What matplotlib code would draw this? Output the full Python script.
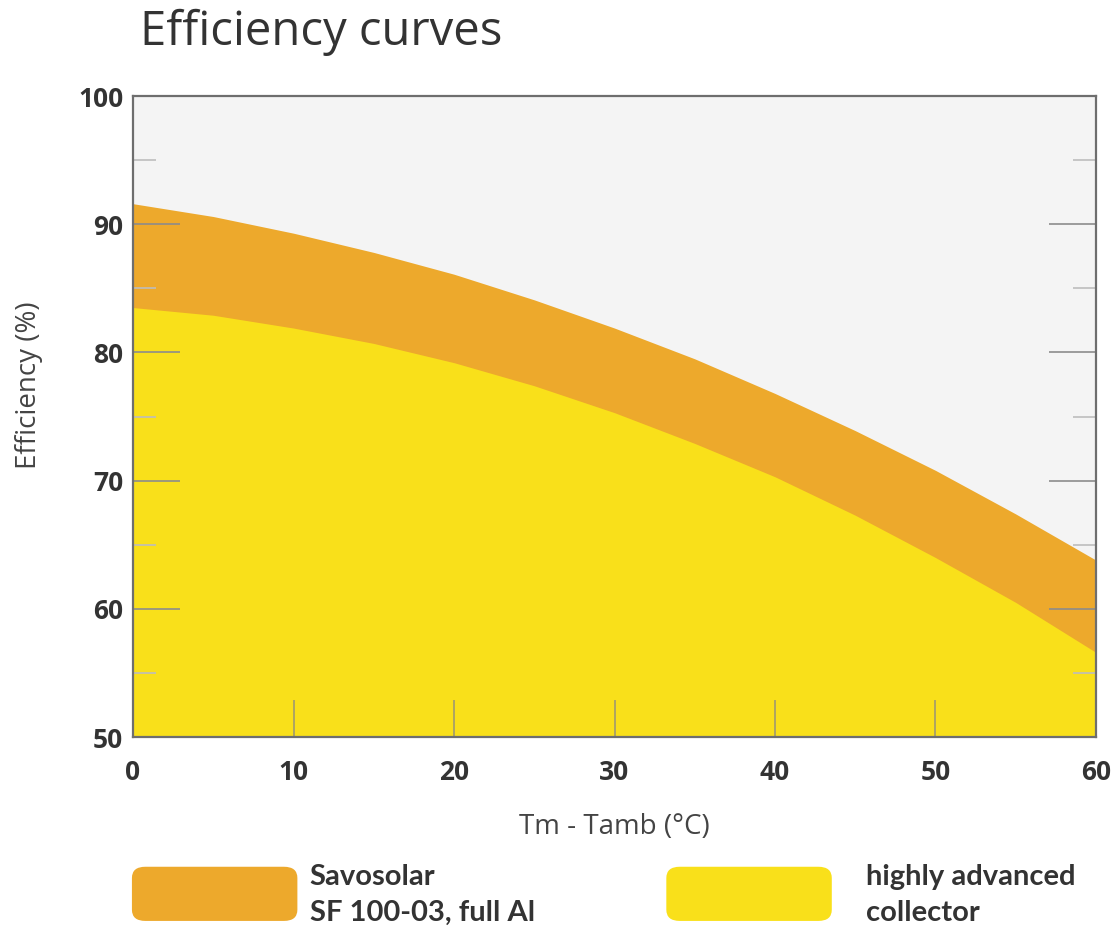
import matplotlib
matplotlib.use("Agg")
import matplotlib.pyplot as plt
from matplotlib.patches import FancyBboxPatch

# values
temp_diff = [0, 5, 10, 15, 20, 25, 30, 35, 40, 45, 50, 55, 60]
savosolar = [91.6, 90.6, 89.3, 87.8, 86.1, 84.1, 81.9, 79.5, 76.8, 73.9, 70.8, 67.4, 63.8]
advanced = [83.5, 82.9, 81.9, 80.7, 79.2, 77.4, 75.3, 72.9, 70.3, 67.3, 64.0, 60.5, 56.6]

x_ticks = [0, 10, 20, 30, 40, 50, 60]
y_ticks = [50, 60, 70, 80, 90, 100]
y_minor = [55, 65, 75, 85, 95]

legend_labels = ["Savosolar\nSF 100-03, full Al", "highly advanced\ncollector"]

ORANGE = "#eda92c"
YELLOW = "#f9e01a"
TEXT = "#333333"

fig = plt.figure(figsize=(11.18, 9.34), dpi=100)
ax = fig.add_axes([0.119, 0.2109, 0.8613, 0.6863])
ax.set_facecolor("#f4f4f4")
ax.set_axisbelow(False)  # ticks must sit on top of the fills

ax.fill_between(temp_diff, 50, savosolar, color=ORANGE, linewidth=0, zorder=1)
ax.fill_between(temp_diff, 50, advanced, color=YELLOW, linewidth=0, zorder=2)

ax.set_xlim(0, 60)
ax.set_ylim(50, 100)
ax.set_xticks(x_ticks)
ax.set_yticks(y_ticks)
ax.set_yticks(y_minor, minor=True)

for s in ax.spines.values():
    s.set_color("#6e6e6e")
    s.set_linewidth(1.6)
    s.set_zorder(5)

ax.tick_params(axis="y", which="major", direction="in", length=34, width=1.2,
               color="#8c8c8c", left=True, right=True, labelright=False, pad=7)
ax.tick_params(axis="y", which="minor", direction="in", length=16.5, width=1.2,
               color="#bdbdbd", left=True, right=True)
ax.tick_params(axis="x", which="major", direction="in", length=26.5, width=1.2,
               color="#a09a70", bottom=True, top=False, pad=16)
for lbl in ax.get_xticklabels() + ax.get_yticklabels():
    lbl.set_fontfamily("Open Sans")
    lbl.set_fontweight("bold")
    lbl.set_fontsize(19)
    lbl.set_color(TEXT)

ax.set_xlabel("Tm - Tamb (°C)", fontfamily="Open Sans", fontsize=20, color="#444444",
              labelpad=19)
fig.text(0.026, 0.588, "Efficiency (%)", rotation=90, ha="center", va="center",
         fontfamily="Open Sans", fontsize=20, color="#444444")

fig.text(0.125, 0.966, "Efficiency curves", ha="left", va="center",
         fontfamily="Open Sans", fontsize=34, color=TEXT)

# legend boxes
for (x0, color, label, tx) in [(0.119, ORANGE, legend_labels[0], 0.277),
                               (0.597, YELLOW, legend_labels[1], 0.775)]:
    box = FancyBboxPatch((x0 + 0.008, 0.023), 0.13, 0.04,
                         boxstyle="round,pad=0.009,rounding_size=0.012",
                         transform=fig.transFigure, facecolor=color,
                         edgecolor="none")
    fig.patches.append(box)
    fig.text(tx, 0.042, label, ha="left", va="center", fontfamily="Lato",
             fontweight="bold", fontsize=21, color=TEXT, linespacing=1.5)

fig.savefig("out.png", dpi=100)
